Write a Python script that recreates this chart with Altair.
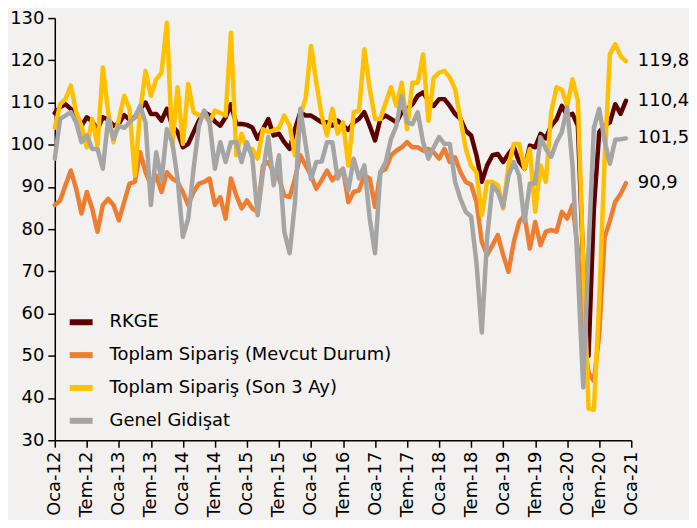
import altair as alt
import pandas as pd

# Monthly data, Oca-12 ... Ara-20
rkge = [107.5, 108.9, 109.6, 108.5, 107.3, 104.5, 106.5, 105.5, 103.7, 106.5,
        106.0, 104.5, 105.0, 107.0, 106.0, 106.5, 108.5, 110.0, 107.3, 107.3,
        105.7, 108.5, 104.5, 103.0, 99.4, 100.2, 103.0, 105.7, 107.7, 107.0,
        105.5, 104.5, 106.5, 109.6, 104.9, 104.9, 104.7, 104.1, 101.4, 103.7,
        106.1, 102.2, 102.6, 100.6, 99.0, 103.7, 107.7, 106.9, 106.9, 106.1,
        105.3, 105.3, 104.5, 105.7, 104.5, 103.5, 105.3, 106.1, 107.7, 104.5,
        101.0, 106.1, 106.9, 106.1, 105.3, 107.7, 108.5, 109.6, 111.6, 112.4,
        110.4, 109.2, 110.8, 110.8, 109.2, 107.3, 106.1, 103.3, 102.2, 97.5,
        91.2, 95.1, 97.5, 97.8, 95.9, 97.8, 99.4, 96.0, 94.3, 99.8,
        99.4, 102.6, 101.5, 104.5, 106.0, 109.2, 106.9, 107.3, 104.5, 72.0,
        50.0, 85.0, 103.0, 104.5, 105.3, 109.6, 107.3, 110.4]

siparis_mevcut = [85.7, 86.8, 90.4, 93.9, 89.6, 83.7, 88.8, 84.9, 79.4, 85.7,
                  87.2, 85.7, 82.1, 86.4, 90.8, 91.2, 98.2, 93.5, 90.4, 92.7,
                  88.8, 93.5, 92.0, 91.2, 88.8, 85.7, 88.8, 90.8, 91.2, 92.0,
                  85.7, 87.6, 82.5, 92.0, 88.0, 84.9, 86.8, 84.9, 84.1, 95.1,
                  95.9, 93.5, 92.0, 88.0, 87.6, 92.0, 97.5, 95.1, 92.7, 89.6,
                  91.6, 93.9, 91.6, 93.1, 94.3, 86.4, 88.8, 89.2, 92.7, 92.0,
                  85.3, 93.5, 94.3, 97.5, 98.6, 99.4, 100.6, 99.4, 99.4, 98.6,
                  99.0, 98.2, 96.7, 99.0, 95.9, 97.0, 93.5, 91.2, 90.5, 86.4,
                  77.0, 73.9, 76.2, 78.6, 73.9, 69.9, 77.0, 81.7, 83.3, 75.4,
                  81.7, 76.2, 79.4, 79.8, 79.4, 84.1, 82.5, 85.7, 75.0, 55.0,
                  46.0, 44.0, 55.0, 78.0, 82.0, 86.5, 88.3, 90.9]

siparis_3ay = [104.0, 109.6, 110.8, 114.0, 107.7, 104.5, 99.4, 106.1, 99.8, 118.3,
               107.7, 100.6, 106.0, 111.6, 108.5, 92.7, 108.0, 117.5, 111.6, 115.5,
               117.1, 128.9, 99.8, 113.6, 100.2, 114.4, 107.7, 107.0, 107.0, 105.3,
               108.1, 107.5, 106.9, 126.5, 97.5, 102.6, 99.0, 99.0, 96.7, 103.7,
               103.0, 103.4, 104.0, 106.9, 104.5, 97.5, 107.0, 111.0, 123.4, 114.7,
               106.9, 102.2, 108.5, 102.6, 105.3, 95.1, 107.7, 108.1, 122.6, 113.2,
               106.1, 106.1, 110.0, 113.6, 109.2, 114.7, 103.7, 114.7, 114.7, 121.4,
               105.7, 115.9, 117.1, 117.5, 115.9, 113.2, 106.1, 99.0, 95.0, 93.5,
               83.3, 91.2, 91.2, 90.4, 84.9, 95.1, 100.2, 100.2, 94.3, 99.0,
               84.1, 95.1, 91.2, 107.7, 113.6, 113.0, 109.2, 115.5, 110.4, 72.0,
               37.5, 37.2, 63.0, 96.0, 121.5, 123.8, 121.0, 119.8]

genel_gidisat = [96.7, 106.1, 106.9, 107.7, 105.3, 100.6, 102.2, 99.0, 99.0, 94.3,
                 106.1, 101.4, 104.5, 104.0, 105.3, 106.5, 109.2, 105.3, 85.7, 98.2,
                 91.6, 103.7, 100.6, 92.0, 78.2, 82.5, 94.3, 104.5, 108.1, 105.3,
                 94.3, 100.6, 95.9, 100.6, 100.6, 95.9, 100.6, 97.0, 83.3, 93.5,
                 101.8, 90.4, 97.5, 79.4, 74.3, 86.4, 108.5, 100.0, 91.9, 95.9,
                 96.0, 100.6, 100.6, 92.0, 94.3, 89.2, 96.7, 92.0, 95.1, 82.5,
                 74.3, 93.5, 95.9, 101.4, 104.5, 111.6, 105.3, 104.9, 107.7, 100.6,
                 96.7, 99.4, 101.8, 100.2, 100.2, 91.2, 87.2, 84.1, 83.0, 72.0,
                 55.5, 78.0, 90.4, 88.8, 85.3, 92.7, 95.9, 92.7, 81.7, 90.8,
                 90.8, 101.8, 99.0, 97.1, 100.6, 103.0, 108.9, 95.0, 70.0, 42.5,
                 75.0, 104.0, 108.5, 101.0, 95.5, 101.2, 101.3, 101.5]

series_names = ["RKGE", "Toplam Sipariş (Mevcut Durum)",
                "Toplam Sipariş (Son 3 Ay)", "Genel Gidişat"]
series_colors = ["#5C0000", "#ED7D31", "#FFC000", "#A5A5A5"]
tick_labels = ["Oca-12", "Tem-12", "Oca-13", "Tem-13", "Oca-14", "Tem-14",
               "Oca-15", "Tem-15", "Oca-16", "Tem-16", "Oca-17", "Tem-17",
               "Oca-18", "Tem-18", "Oca-19", "Tem-19", "Oca-20", "Tem-20",
               "Oca-21"]

all_series = [rkge, siparis_mevcut, siparis_3ay, genel_gidisat]
rows = []
for name, vals in zip(series_names, all_series):
    for i, v in enumerate(vals):
        rows.append({"t": i, "value": v, "series": name})
df = pd.DataFrame(rows)

last = pd.DataFrame({
    "t": [len(v) - 1 for v in all_series],
    "value": [v[-1] for v in all_series],
    "label": [f"{v[-1]:.1f}".replace(".", ",") for v in all_series],
})

label_arr = "[" + ",".join(f"'{s}'" for s in tick_labels) + "]"

x_enc = alt.X("t:Q", scale=alt.Scale(domain=[0, 108], nice=False, zero=False),
              axis=alt.Axis(values=list(range(0, 109, 6)), tickCount=40,
                            labelExpr=f"{label_arr}[round(datum.value/6)]",
                            labelAngle=-90, labelFontSize=18, labelPadding=4,
                            labelOverlap=False, labelFlush=False,
                            tickSize=7, tickColor="black", tickWidth=1.5,
                            domainColor="black", domainWidth=1.5,
                            labelColor="black", grid=False, title=None))
y_enc = alt.Y("value:Q", scale=alt.Scale(domain=[30, 130], nice=False, zero=False),
              axis=alt.Axis(values=list(range(30, 131, 10)), tickCount=20,
                            labelFontSize=18,
                            labelPadding=4, tickSize=7, tickColor="black",
                            tickWidth=1.5, domainColor="black", domainWidth=1.5,
                            labelOverlap=False, labelFlush=False,
                            labelColor="black", grid=False, title=None))

color_scale = alt.Scale(domain=series_names, range=series_colors)

layers = []
for k, name in enumerate(series_names):
    if k == 0:
        legend = alt.Legend(orient="none", legendX=12, legendY=291, title=None,
                            symbolType="stroke", symbolStrokeWidth=6,
                            symbolSize=529, labelFontSize=18, labelColor="black",
                            labelOffset=14, rowPadding=6, padding=0,
                            labelLimit=0, symbolOpacity=1)
        enc_color = alt.Color("series:N", scale=color_scale, legend=legend)
    else:
        enc_color = alt.Color("series:N", scale=color_scale, legend=None)
    layer = alt.Chart(df).transform_filter(
        alt.datum.series == name
    ).mark_line(strokeWidth=4.5, strokeCap="round", strokeJoin="round").encode(
        x=x_enc, y=y_enc, color=enc_color
    )
    layers.append(layer)

text = alt.Chart(last).mark_text(align="left", baseline="middle", dx=12,
                                 fontSize=18, color="black").encode(
    x=alt.X("t:Q"), y=alt.Y("value:Q"), text="label:N"
)

chart = alt.layer(*layers, text).properties(
    width=579, height=424,
    autosize=alt.AutoSizeParams(type="none"),
    padding={"left": 47, "top": 9, "right": 58, "bottom": 79},
    background="#F2F1EF",
).configure(font="DejaVu Sans").configure_view(stroke=None)

chart.save("out.html", embed_options={"renderer": "svg", "actions": False})
